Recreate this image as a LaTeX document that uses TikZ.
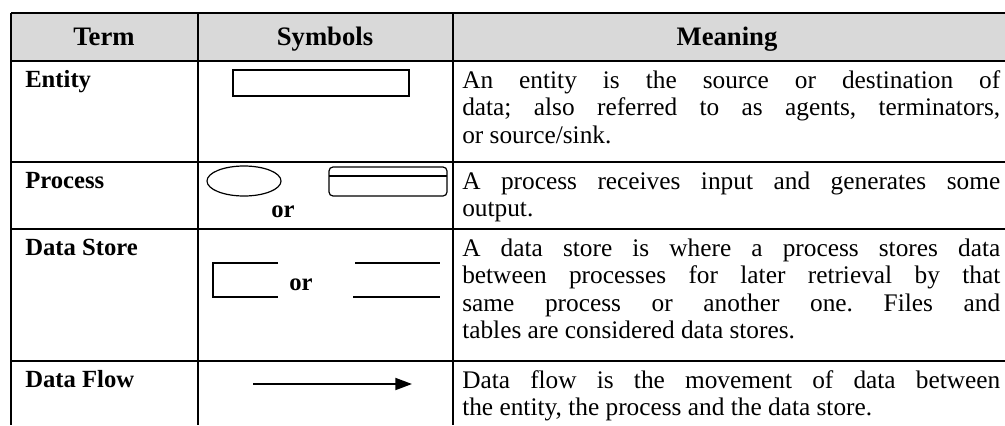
\documentclass[tikz,border=0pt]{standalone}
\usepackage{fontspec}
\setmainfont{Liberation Serif}
\usetikzlibrary{arrows.meta}
\frenchspacing
\def\fullline#1{\makebox[403.5pt][s]{#1}}

\begin{document}
\begin{tikzpicture}[x=0.75pt, y=-0.75pt,
		rule/.style={line width=1.8pt, color=black},
		sym/.style={line width=0.9pt, color=black},
		head/.style={anchor=base, inner sep=0pt, font=\fontsize{20}{24}\selectfont\bfseries},
		term/.style={anchor=base west, inner sep=0pt, font=\fontsize{18.5}{22}\selectfont\bfseries},
		txt/.style={anchor=base west, inner sep=0pt, font=\fontsize{19}{22}\selectfont}]
		%%%%% START %%%%%
		\useasboundingbox (0, 0) rectangle (1005, 425);
		
		\fill[color=black!15] (11, 13) rectangle (1005, 61);
		
		\draw[rule] (11, 13) -- (1005, 13);
		\draw[rule] (11, 61) -- (1005, 61);
		\draw[rule] (11, 162) -- (1005, 162);
		\draw[rule] (11, 229) -- (1005, 229);
		\draw[rule] (11, 361) -- (1005, 361);
		
		\draw[rule] (11, 13) -- (11, 425);
		\draw[rule] (198, 13) -- (198, 425);
		\draw[rule] (453, 13) -- (453, 425);
		
		\node[head] (hterm) at (104, 45) {Term};
		\node[head] (hsym) at (325, 45) {Symbols};
		\node[head] (hmean) at (727, 45) {Meaning};
		
		\node[term] (entity) at (25, 87) {Entity};
		\node[term] (process) at (25, 188) {Process};
		\node[term] (store) at (25, 255) {Data Store};
		\node[term] (flow) at (25, 387) {Data Flow};
		
		% symbols
		\draw[sym] (233, 70) rectangle (409, 96);
		
		\draw[sym] (244, 181) ellipse (37 and 15);
		\draw[sym, rounded corners=3pt] (329, 167) rectangle (447, 196);
		\draw[sym] (329, 176) -- (447, 176);
		\node[term, anchor=base] (orproc) at (283, 217) {or};
		
		\draw[line width=1.4pt] (278, 263) -- (213, 263) -- (213, 297) -- (278, 297);
		\draw[line width=1.4pt] (355, 263) -- (440, 263);
		\draw[line width=1.4pt] (353, 297) -- (440, 297);
		\node[term, anchor=base] (orstore) at (301, 290) {or};
		
		\coordinate (flowa) at (253, 384);
		\coordinate (flowb) at (412, 384);
		\draw[line width=1.4pt, -{Triangle[length=12.5pt, width=9pt]}] (flowa) -- (flowb);
		
		% meaning
		\node[txt] (m1a) at (462, 88) {\fullline{An entity is the source or destination of}};
		\node[txt] (m1b) at (462, 115.5) {\fullline{data; also referred to as agents, terminators,}};
		\node[txt] (m1c) at (462, 143) {or source/sink.};
		
		\node[txt] (m2a) at (462, 189) {\fullline{A process receives input and generates some}};
		\node[txt] (m2b) at (462, 216.5) {output.};
		
		\node[txt] (m3a) at (462, 256) {\fullline{A data store is where a process stores data}};
		\node[txt] (m3b) at (462, 283.5) {\fullline{between processes for later retrieval by that}};
		\node[txt] (m3c) at (462, 311) {\fullline{same process or another one. Files and}};
		\node[txt] (m3d) at (462, 338.5) {tables are considered data stores.};
		
		\node[txt] (m4a) at (462, 388) {\fullline{Data flow is the movement of data between}};
		\node[txt] (m4b) at (462, 415.5) {the entity, the process and the data store.};
		
		%%%%% END %%%%%
\end{tikzpicture}
\end{document}
